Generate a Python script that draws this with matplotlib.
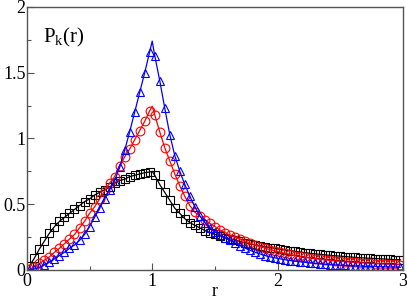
import matplotlib
matplotlib.use("Agg")
import matplotlib.pyplot as plt
import numpy as np

plt.rcParams['font.family'] = ['Liberation Serif', 'DejaVu Serif']
plt.rcParams['mathtext.fontset'] = 'custom'
plt.rcParams['mathtext.rm'] = 'Liberation Serif'
plt.rcParams['mathtext.it'] = 'Liberation Serif:italic'

# r grid: marker positions plus the peak point at r = 1.0 (line only)
r = [0.02, 0.06, 0.10, 0.14, 0.18, 0.22, 0.26, 0.30, 0.34, 0.38,
     0.42, 0.46, 0.50, 0.54, 0.58, 0.62, 0.66, 0.70, 0.74, 0.78,
     0.82, 0.86, 0.90, 0.94, 0.98, 1.00, 1.02, 1.06, 1.10, 1.14,
     1.18, 1.22, 1.26, 1.30, 1.34, 1.38, 1.42, 1.46, 1.50, 1.54,
     1.58, 1.62, 1.66, 1.70, 1.74, 1.78, 1.82, 1.86, 1.90, 1.94,
     1.98, 2.02, 2.06, 2.10, 2.14, 2.18, 2.22, 2.26, 2.30, 2.34,
     2.38, 2.42, 2.46, 2.50, 2.54, 2.58, 2.62, 2.66, 2.70, 2.74,
     2.78, 2.82, 2.86, 2.90, 2.94, 2.98]
peak_index = 25

black = [0.03, 0.09, 0.16, 0.22, 0.28, 0.33, 0.37, 0.40, 0.43, 0.46,
         0.49, 0.52, 0.54, 0.57, 0.59, 0.61, 0.63, 0.66, 0.68, 0.69,
         0.71, 0.72, 0.73, 0.74, 0.745, 0.75, 0.72, 0.65, 0.59, 0.53,
         0.47, 0.43, 0.39, 0.36, 0.34, 0.32, 0.30, 0.285, 0.27, 0.26,
         0.247, 0.237, 0.227, 0.217, 0.207, 0.198, 0.19, 0.183, 0.176, 0.17,
         0.164, 0.158, 0.152, 0.147, 0.142, 0.137, 0.132, 0.127, 0.123, 0.119,
         0.115, 0.111, 0.108, 0.105, 0.102, 0.099, 0.096, 0.093, 0.091, 0.089,
         0.087, 0.085, 0.083, 0.081, 0.079, 0.077]

red = [0.005, 0.025, 0.05, 0.075, 0.10, 0.135, 0.165, 0.20, 0.235, 0.27,
       0.32, 0.37, 0.43, 0.48, 0.54, 0.60, 0.66, 0.71, 0.79, 0.86,
       0.92, 0.99, 1.06, 1.13, 1.21, 1.245, 1.18, 1.05, 0.93, 0.83,
       0.73, 0.64, 0.56, 0.49, 0.44, 0.41, 0.38, 0.355, 0.33, 0.305,
       0.285, 0.265, 0.25, 0.235, 0.22, 0.205, 0.19, 0.178, 0.166, 0.155,
       0.145, 0.135, 0.126, 0.118, 0.11, 0.103, 0.097, 0.091, 0.086, 0.081,
       0.077, 0.073, 0.069, 0.066, 0.063, 0.06, 0.057, 0.055, 0.053, 0.051,
       0.049, 0.047, 0.045, 0.044, 0.042, 0.041]

blue = [0.002, 0.008, 0.02, 0.04, 0.06, 0.085, 0.11, 0.135, 0.165, 0.19,
        0.225, 0.27, 0.33, 0.40, 0.47, 0.54, 0.61, 0.68, 0.78, 0.91,
        1.05, 1.20, 1.35, 1.50, 1.66, 1.74, 1.63, 1.44, 1.23, 1.03,
        0.87, 0.75, 0.65, 0.56, 0.48, 0.41, 0.36, 0.32, 0.29, 0.265,
        0.245, 0.225, 0.205, 0.185, 0.167, 0.15, 0.135, 0.122, 0.11, 0.10,
        0.092, 0.085, 0.078, 0.072, 0.067, 0.062, 0.058, 0.054, 0.05, 0.047,
        0.044, 0.041, 0.039, 0.037, 0.035, 0.033, 0.031, 0.03, 0.028, 0.027,
        0.026, 0.025, 0.024, 0.023, 0.022, 0.021]

xticks = [0, 1, 2, 3]
yticks = [0, 0.5, 1, 1.5, 2]
ytick_labels = ['0', '0.5', '1', '1.5', '2']

fig = plt.figure(figsize=(4.07, 3.01), dpi=100)
ax = fig.add_axes([0.066, 0.103, 0.924, 0.874])

marks = [i for i in range(len(r)) if i != peak_index]
series = [(black, 'black', 's'), (red, 'red', 'o'), (blue, 'blue', '^')]
for vals, col, mk in series:
    ax.plot(r, vals, color=col, lw=0.9, marker=mk, markevery=marks,
            markersize=6.3, markerfacecolor='none', markeredgecolor=col,
            markeredgewidth=0.8)

ax.set_xlim(0, 3)
ax.set_ylim(0, 2)
ax.set_xticks(xticks)
ax.set_xticklabels([str(t) for t in xticks])
ax.set_yticks(yticks)
ax.set_yticklabels(ytick_labels)
ax.set_xticks([0.5, 1.5, 2.5], minor=True)
ax.set_yticks([0.25, 0.75, 1.25, 1.75], minor=True)
ax.tick_params(which='major', direction='in', length=5, width=0.8,
               labelsize=13, pad=2, color='#555555')
ax.tick_params(which='minor', direction='in', length=3, width=0.8,
               color='#555555')
ax.tick_params(axis='y', pad=1)
for s in ax.spines.values():
    s.set_color('#555555')
    s.set_linewidth(1.0)

ax.text(0.5, -0.098, 'r', transform=ax.transAxes,
        fontsize=13, ha='center', va='baseline')
ax.text(0.042, 0.865, r'$\mathrm{P_k(r)}$', transform=ax.transAxes,
        fontsize=15)

fig.savefig('out.png', dpi=100)
